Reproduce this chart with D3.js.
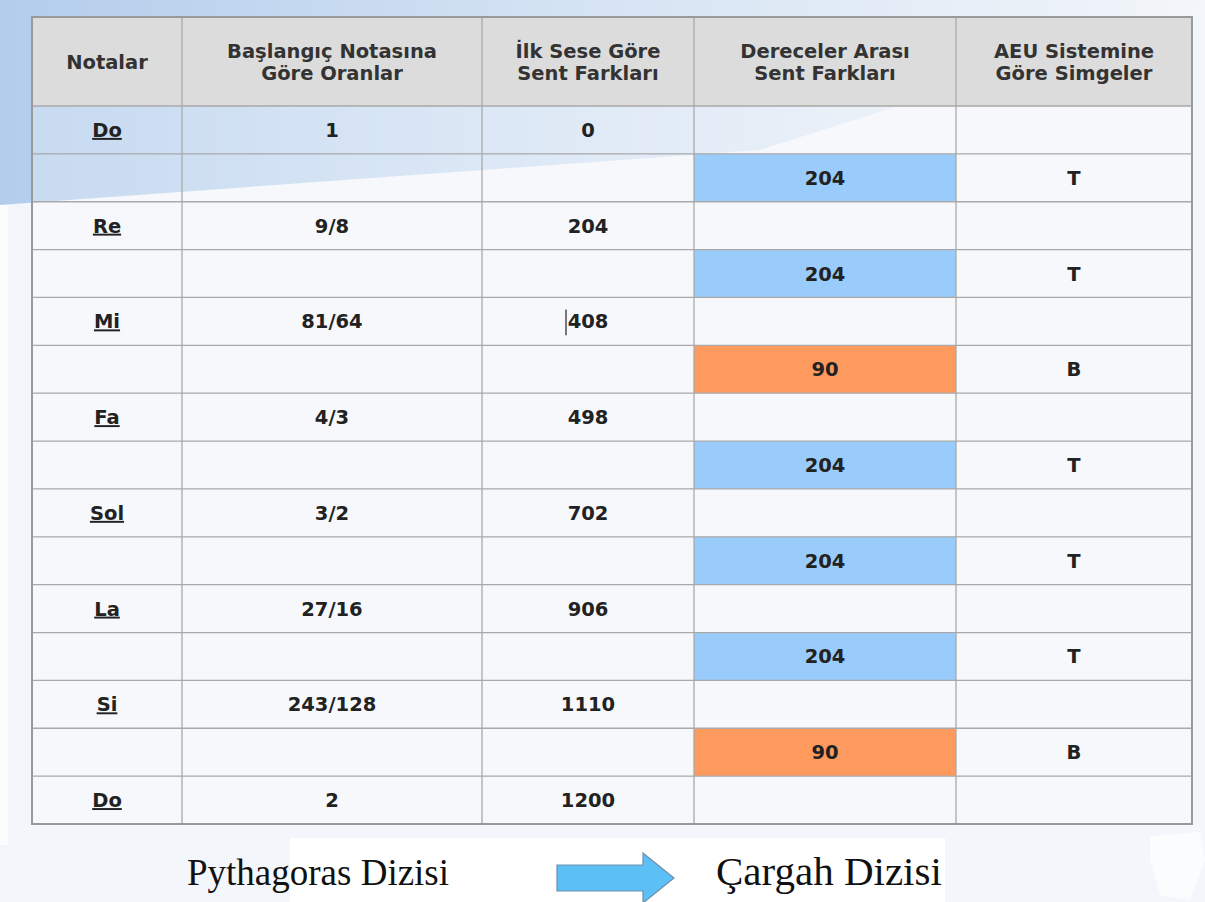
<!DOCTYPE html>
<html>
<head>
  <style>
    body { margin: 0; background: #f3f6fa; }
    svg { display: block; }
  </style>
</head>
<body>
  <div id="chart"></div>
  <script src="https://d3js.org/d3.v7.min.js"></script>
  <script>
  // table content
  const headers = [
    ["Notalar"],
    ["Başlangıç Notasına", "Göre Oranlar"],
    ["İlk Sese Göre", "Sent Farkları"],
    ["Dereceler Arası", "Sent Farkları"],
    ["AEU Sistemine", "Göre Simgeler"]
  ];
  const notes = ["Do", "Re", "Mi", "Fa", "Sol", "La", "Si", "Do"];
  const ratios = ["1", "9/8", "81/64", "4/3", "3/2", "27/16", "243/128", "2"];
  const cents = [0, 204, 408, 498, 702, 906, 1110, 1200];
  const steps = [204, 204, 90, 204, 204, 204, 90];
  const symbols = ["T", "T", "B", "T", "T", "T", "B"];
  const footer = ["Pythagoras Dizisi", "Çargah Dizisi"];

  const W = 1205, H = 902;
  const colWidths = [150, 300, 212, 262, 236];
  const tableLeft = 32, tableTop = 17, headH = 89, tableBottom = 824;
  const fontSize = 19.5;

  // build rows: note row, then interval row between notes
  const rows = [];
  notes.forEach((n, i) => {
    rows.push({type: "note", cells: [n, ratios[i], String(cents[i]), "", ""]});
    if (i < steps.length) rows.push({type: "step", cells: ["", "", "", String(steps[i]), symbols[i]], small: steps[i] < 100});
  });

  // colEdges = [32, 182, 482, 694, 956, 1192]
  const colEdges = Array.from(d3.cumsum([tableLeft].concat(colWidths)));
  const colStart = i => colEdges[i];
  const colMid = i => colStart(i) + colWidths[i] / 2;
  const tableRight = colEdges[colEdges.length - 1];

  const y = d3.scaleBand()
    .domain(d3.range(rows.length))
    .range([tableTop + headH, tableBottom]);

  const svg = d3.select("#chart").append("svg")
    .attr("width", W).attr("height", H);

  // background swoosh
  const defs = svg.append("defs");
  const grad = defs.append("linearGradient").attr("id", "sw")
    .attr("x1", "0").attr("y1", "0").attr("x2", "1").attr("y2", "0");
  grad.append("stop").attr("offset", "0").attr("stop-color", "#b3cdec");
  grad.append("stop").attr("offset", "0.45").attr("stop-color", "#d3e2f3");
  grad.append("stop").attr("offset", "1").attr("stop-color", "#f3f6fa");

  svg.append("rect").attr("width", W).attr("height", H).attr("fill", "#f3f6fa");
  svg.append("path")
    .attr("d", "M0,0 L1205,0 L1205,8 L760,150 L0,205 Z")
    .attr("fill", "url(#sw)");
  svg.append("rect").attr("x", 0).attr("y", 205).attr("width", 8).attr("height", 640).attr("fill", "#fbfcfe");

  // white patch behind footer text
  svg.append("rect").attr("x", 290).attr("y", 838).attr("width", 655).attr("height", 64).attr("fill", "#ffffff");
  svg.append("path").attr("d", "M1150,836 L1200,832 L1205,860 L1190,900 L1160,895 L1150,860 Z").attr("fill", "#fbfcfd");

  // header
  const head = svg.append("g");
  headers.forEach((h, i) => {
    head.append("rect")
      .attr("x", colStart(i)).attr("y", tableTop)
      .attr("width", colWidths[i]).attr("height", headH)
      .attr("fill", "#dcdcdc");
    const t = head.append("text")
      .attr("x", colMid(i))
      .attr("text-anchor", "middle")
      .attr("font-family", "DejaVu Sans, Verdana, sans-serif")
      .attr("font-weight", "bold").attr("font-size", fontSize)
      .attr("fill", "#333");
    h.forEach((line, j) => {
      t.append("tspan").attr("x", colMid(i))
        .attr("y", tableTop + headH / 2 + 7 + (j - (h.length - 1) / 2) * 22)
        .text(line);
    });
  });

  // body cells
  const body = svg.append("g");
  rows.forEach((r, ri) => {
    r.cells.forEach((c, ci) => {
      let fill = "rgba(255,255,255,0.25)";
      if (ci === 3 && r.type === "step") fill = r.small ? "#ff9a5f" : "#99cbfb";
      body.append("rect")
        .attr("x", colStart(ci)).attr("y", y(ri))
        .attr("width", colWidths[ci]).attr("height", y.bandwidth())
        .attr("fill", fill);
      if (c !== "") {
        body.append("text")
          .attr("x", colMid(ci))
          .attr("y", y(ri) + y.bandwidth() / 2 + 7)
          .attr("text-anchor", "middle")
          .attr("font-family", "DejaVu Sans, Verdana, sans-serif")
          .attr("font-weight", "bold").attr("font-size", fontSize)
          .attr("fill", "#222")
          .attr("text-decoration", ci === 0 ? "underline" : null)
          .text(c);
      }
    });
  });

  // text cursor before 408
  const mi = rows.findIndex(r => r.cells[2] === "408");
  body.append("line")
    .attr("x1", 566).attr("x2", 566)
    .attr("y1", y(mi) + 12).attr("y2", y(mi) + y.bandwidth() - 10)
    .attr("stroke", "#222").attr("stroke-width", 1.2);

  // grid lines
  const grid = svg.append("g").attr("stroke", "#a9a9a9").attr("stroke-width", 1.3);
  colEdges.slice(1, -1).forEach(x => {
    grid.append("line").attr("x1", x).attr("x2", x).attr("y1", tableTop).attr("y2", tableBottom);
  });
  d3.range(rows.length).forEach(i => {
    grid.append("line").attr("x1", tableLeft).attr("x2", tableRight)
      .attr("y1", y(i)).attr("y2", y(i));
  });
  svg.append("rect")
    .attr("x", tableLeft).attr("y", tableTop)
    .attr("width", tableRight - tableLeft).attr("height", tableBottom - tableTop)
    .attr("fill", "none").attr("stroke", "#999").attr("stroke-width", 2);

  // footer
  svg.append("text")
    .attr("x", 187).attr("y", 885)
    .attr("font-family", "Liberation Serif, Times New Roman, serif")
    .attr("font-size", 37).attr("fill", "#111")
    .text(footer[0]);
  svg.append("text")
    .attr("x", 716).attr("y", 885)
    .attr("font-family", "Liberation Serif, Times New Roman, serif")
    .attr("font-size", 41).attr("fill", "#111")
    .text(footer[1]);
  svg.append("path")
    .attr("d", "M557,865 L643,865 L643,853 L674,878 L643,903 L643,891 L557,891 Z")
    .attr("fill", "#5cbff6").attr("stroke", "#6f8fab").attr("stroke-width", 1.2);
  </script>
</body>
</html>
